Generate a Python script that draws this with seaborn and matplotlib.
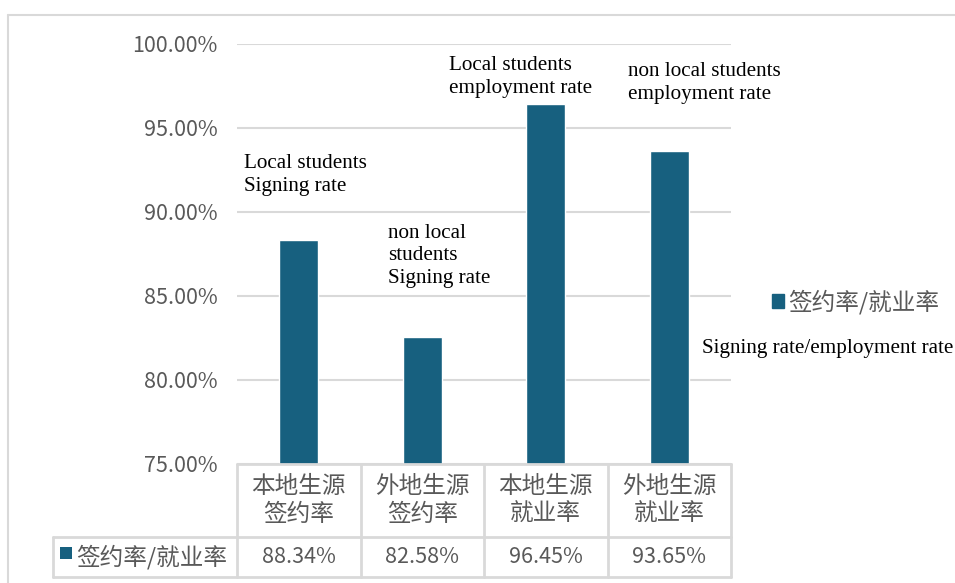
import matplotlib
matplotlib.use("Agg")
import matplotlib.pyplot as plt
import matplotlib.transforms as mtransforms
from matplotlib.patches import Rectangle, Patch
from matplotlib.lines import Line2D
import seaborn as sns
import pandas as pd

# Data
categories = ["本地生源\n签约率", "外地生源\n签约率", "本地生源\n就业率", "外地生源\n就业率"]
rates = [88.34, 82.58, 96.45, 93.65]
series_name = "签约率/就业率"
yticks = [75, 80, 85, 90, 95, 100]
notes = [
    "Local students\nSigning rate",
    "non local\nstudents\nSigning rate",
    "Local students\nemployment rate",
    "non local students\nemployment rate",
]
legend_note = "Signing rate/employment rate"

# Styles
BAR = "#17607F"
GRID = "#D9D9D9"
TEXT = "#595959"
CJK = ["Noto Sans CJK SC", "DejaVu Sans"]
SERIF = ["Liberation Serif", "DejaVu Serif"]
NUM_SIZE = 15.5
CJK_SIZE = 17

sns.set_theme(style="white")
plt.rcParams["font.family"] = CJK

W, H = 955, 583
fig = plt.figure(figsize=(W / 100, H / 100), dpi=100)


def fx(px):
    return px / W


def fy(py):
    return 1 - py / H


# plot area in pixels
L, R, T, B = 237, 731, 44, 464
ax = fig.add_axes([fx(L), fy(B), (R - L) / W, (B - T) / H])

df = pd.DataFrame({"cat": categories, "rate": rates})
sns.barplot(data=df, x="cat", y="rate", color=BAR, width=0.316,
            saturation=1, ax=ax)

ax.set_ylim(75, 100)
ax.set_yticks(yticks)
ax.set_yticklabels([f"{v:.2f}%" for v in yticks])
ax.set_xlabel("")
ax.set_ylabel("")
ax.set_xticks([])
for s in ax.spines.values():
    s.set_visible(False)
ax.yaxis.grid(True, color=GRID, lw=1.5)
ax.set_axisbelow(True)
ax.tick_params(axis="y", length=0, pad=14, labelsize=NUM_SIZE,
               labelcolor=TEXT)

# data table below the plot
tr = mtransforms.blended_transform_factory(ax.transData, ax.transAxes)
ah = B - T
y0 = 0.0
y1 = -(537 - B) / ah
y2 = -(577 - B) / ah
unit = (R - L) / len(categories)
xl = -0.5 - (L - 53) / unit
lkw = dict(color=GRID, lw=2, transform=tr, clip_on=False)
ax.add_line(Line2D([-0.5, 3.5], [y0, y0], **lkw))
ax.add_line(Line2D([xl, 3.5], [y1, y1], **lkw))
ax.add_line(Line2D([xl, 3.5], [y2, y2], **lkw))
for i in range(len(categories) + 1):
    ax.add_line(Line2D([i - 0.5, i - 0.5], [y0, y2], **lkw))
ax.add_line(Line2D([xl, xl], [y1, y2], **lkw))

for i, (c, v) in enumerate(zip(categories, rates)):
    ax.text(i, (y0 + y1) / 2, c, transform=tr, ha="center", va="center",
            fontsize=CJK_SIZE, color=TEXT, linespacing=1.3)
    ax.text(i, (y1 + y2) / 2, f"{v:.2f}%", transform=tr, ha="center",
            va="center", fontsize=NUM_SIZE, color=TEXT)

# legend key inside the table
sq = 12 / unit
ax.add_patch(Rectangle((xl + 7 / unit, -(559 - B) / ah), sq, 12 / ah,
                       transform=tr, clip_on=False, color=BAR, lw=0))
ax.text(xl + 23 / unit, (y1 + y2) / 2, series_name, transform=tr,
        ha="left", va="center", fontsize=CJK_SIZE, color=TEXT)

# legend on the right
ax.legend(handles=[Patch(color=BAR, label=series_name)], loc="center left",
          bbox_to_anchor=(fx(772), fy(302)), bbox_transform=fig.transFigure,
          frameon=False, handlelength=0.5, handleheight=0.5,
          handletextpad=0.2, borderpad=0, borderaxespad=0,
          prop={"family": CJK, "size": CJK_SIZE}, labelcolor=TEXT)

# annotations
note_pos = [(244, 175), (388, 256), (449, 77), (628, 83)]
for (px, py), t in zip(note_pos, notes):
    fig.text(fx(px), fy(py), t, ha="left", va="center", fontsize=15.2,
             family=SERIF, color="black", linespacing=1.22)
fig.text(fx(702), fy(348), legend_note, ha="left", va="center",
         fontsize=15.2, family=SERIF, color="black")

# outer frame
fig.add_artist(Line2D([fx(8), 1], [fy(15), fy(15)], color=GRID, lw=1.5,
                      transform=fig.transFigure))
fig.add_artist(Line2D([fx(8), fx(8)], [fy(15), 0], color=GRID, lw=1.5,
                      transform=fig.transFigure))

fig.savefig("out.png", dpi=100, facecolor="white")
